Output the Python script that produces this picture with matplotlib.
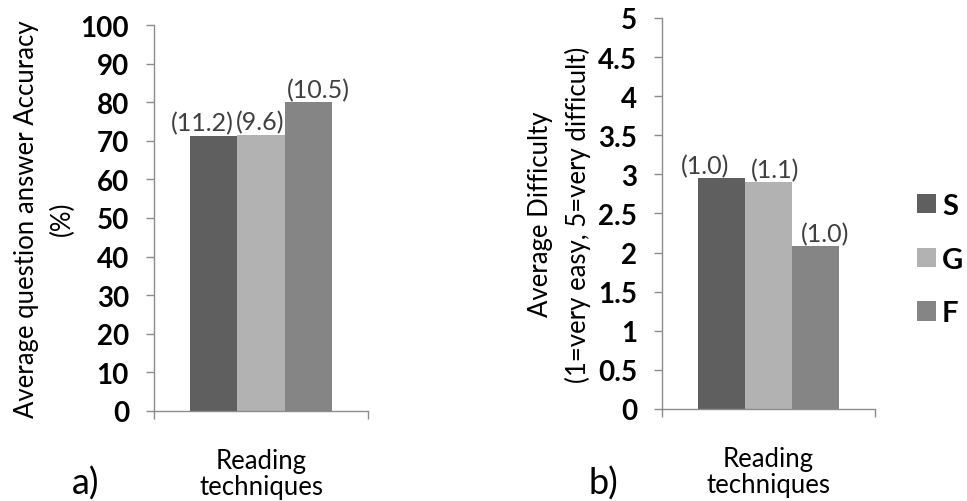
import matplotlib
matplotlib.use("Agg")
import matplotlib.pyplot as plt
from matplotlib.patches import Patch

plt.rcParams['font.family'] = ['Lato', 'DejaVu Sans']

series = ["S", "G", "F"]
colors = ["#5f5f5f", "#b2b2b2", "#858585"]
accuracy = [71.2, 71.5, 80.0]
accuracy_sd = ["(11.2)", "(9.6)", "(10.5)"]
difficulty = [2.95, 2.90, 2.08]
difficulty_sd = ["(1.0)", "(1.1)", "(1.0)"]
acc_ticks = [0, 10, 20, 30, 40, 50, 60, 70, 80, 90, 100]
diff_ticks = [0, 0.5, 1, 1.5, 2, 2.5, 3, 3.5, 4, 4.5, 5]
diff_ticklabels = ["0", "0.5", "1", "1.5", "2", "2.5", "3", "3.5", "4", "4.5", "5"]
xlabel = "Reading\ntechniques"

fig = plt.figure(figsize=(9.67, 5.02), dpi=100)
axA = fig.add_axes([0.1593, 0.1793, 0.2213, 0.7689])
axB = fig.add_axes([0.6846, 0.1833, 0.2203, 0.7789])

width = 0.222
grey = "#8c8c8c"

def style(ax, ymax, ticks, ticklabels):
    ax.set_xlim(0, 1)
    ax.set_ylim(0, ymax)
    for s in ("top", "right"):
        ax.spines[s].set_visible(False)
    for s in ("left", "bottom"):
        ax.spines[s].set_color(grey)
        ax.spines[s].set_linewidth(1.0)
    ax.set_yticks(ticks)
    ax.set_yticklabels(ticklabels, fontsize=20, fontweight="bold")
    ax.set_xticks([0, 1])
    ax.set_xticklabels([])
    ax.tick_params(axis="both", direction="out", length=6, width=1.0, color=grey)
    ax.tick_params(axis="y", pad=12)
    ax.set_xlabel(xlabel, fontsize=18.5, labelpad=17, linespacing=1.05)

def draw(ax, vals, labels, offsets):
    for i, (v, lab) in enumerate(zip(vals, labels)):
        xc = 0.5 + (i - 1) * width
        ax.bar(xc, v, width=width, color=colors[i], edgecolor="none", zorder=2)
        ax.annotate(lab, xy=(xc, v), xytext=(offsets[i], 1), textcoords="offset points",
                    ha="center", va="bottom", fontsize=18, color="#404040")

draw(axA, accuracy, accuracy_sd, [-8, -1, 7])
style(axA, 100, acc_ticks, [str(t) for t in acc_ticks])
axA.set_ylabel("Average question answer Accuracy\n(%)", fontsize=18.5, labelpad=4, linespacing=1.55)

draw(axB, difficulty, difficulty_sd, [-12, 5, 7])
style(axB, 5, diff_ticks, diff_ticklabels)
axB.set_ylabel("Average Difficulty\n(1=very easy, 5=very difficult)", fontsize=18.5, labelpad=5, linespacing=1.55)

fig.text(0.089, 0.002, "a)", fontsize=26, ha="center", va="bottom")
fig.text(0.624, 0.002, "b)", fontsize=26, ha="center", va="bottom")

handles = [Patch(facecolor=c, edgecolor="none") for c in colors]
fig.legend(handles, series, loc="center left", bbox_to_anchor=(0.948, 0.481),
           frameon=False, prop={"size": 21, "weight": "bold"},
           handlelength=0.65, handleheight=0.65, handletextpad=0.22, labelspacing=0.95,
           borderaxespad=0, borderpad=0)

fig.savefig("out.png", dpi=100)
